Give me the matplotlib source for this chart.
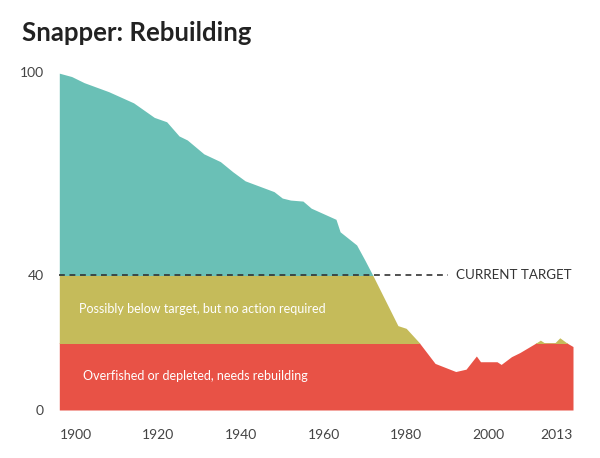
import numpy as np
import matplotlib
matplotlib.use("Agg")
import matplotlib.pyplot as plt
from matplotlib.patches import Rectangle

# ---- data ----
years = [1896, 1899, 1902, 1908, 1914, 1919, 1922, 1925, 1927, 1931, 1935, 1938,
         1941, 1948, 1950, 1952, 1955, 1957, 1963, 1964, 1968, 1970, 1972, 1978,
         1980, 1983, 1987, 1992, 1994.5, 1997, 1998, 2002, 2003, 2005.5, 2007.5,
         2011.5, 2012.5, 2013.5, 2016, 2017.2, 2019, 2020.4]
stock = [99.8, 98.8, 97.0, 94.3, 91.0, 86.7, 85.4, 81.2, 80.0, 75.9, 73.6, 70.6,
         67.9, 64.7, 62.8, 62.2, 61.9, 59.8, 56.5, 52.8, 48.9, 44.4, 39.7, 25.0,
         24.2, 20.2, 13.8, 11.4, 12.1, 16.0, 14.3, 14.3, 13.5, 15.8, 17.0,
         19.9, 20.7, 19.9, 19.9, 21.4, 19.8, 18.8]
target = 40
rebuild_limit = 20
xtick_vals = [1900, 1920, 1940, 1960, 1980, 2000]
xtick_labels = ["1900", "1920", "1940", "1960", "1980", "2000"]
last_label = "2013"
ytick_vals = [0, 40, 100]
ytick_labels = ["0", "40", "100"]
title = "Snapper: Rebuilding"
band_labels = ["Possibly below target, but no action required",
               "Overfished or depleted, needs rebuilding"]
target_label = "CURRENT TARGET"

TEAL = "#6AC0B6"
YELLOW = "#C5BB5A"
RED = "#E85246"

W, H = 600, 458
fig = plt.figure(figsize=(W / 100, H / 100), dpi=100)
fig.patch.set_facecolor("white")

ax_l, ax_r = 59.3, 573.0
ax_b = 410.0
ymax = 105
ppu = 3.375
ax_t = ax_b - ymax * ppu
ax = fig.add_axes([ax_l / W, (H - ax_b) / H, (ax_r - ax_l) / W, (ax_b - ax_t) / H])
ax.set_xlim(years[0], years[-1])
ax.set_ylim(0, ymax)

x = np.array(years)
v = np.array(stock)
bands = [(0, rebuild_limit, RED), (rebuild_limit, target, YELLOW), (target, ymax, TEAL)]
for lo, hi, col in bands:
    poly = ax.fill_between(x, 0, v, color=col, linewidth=0)
    clip = Rectangle((x[0], lo), x[-1] - x[0], hi - lo, transform=ax.transData)
    poly.set_clip_path(clip)

# dashed target line
ax.axhline(target, xmin=0, xmax=(448 - ax_l) / (ax_r - ax_l), color="#333333",
           linewidth=1.2, dashes=(3.5, 2.8))
ax.text((456 - ax_l) / (ax_r - ax_l), target, target_label, transform=ax.get_yaxis_transform(),
        ha="left", va="center", fontsize=9.6, color="#333333", family="Lato")

# band labels
px_per_year = (ax_r - ax_l) / (years[-1] - years[0])
ax.text(years[0] + (79 - ax_l) / px_per_year, 30, band_labels[0], ha="left", va="center",
        color="white", fontsize=9.0, family="Lato")
ax.text(years[0] + (83 - ax_l) / px_per_year, 10, band_labels[1], ha="left", va="center",
        color="white", fontsize=9.0, family="Lato")

for s in ax.spines.values():
    s.set_visible(False)
ax.set_xticks(xtick_vals + [years[-1]])
ax.set_xticklabels(xtick_labels + [last_label], family="Lato", fontsize=10, color="#444444")
ax.get_xticklabels()[-1].set_horizontalalignment("right")
ax.set_yticks(ytick_vals)
ax.set_yticklabels(ytick_labels, family="Lato", fontsize=10, color="#444444")
ax.tick_params(axis="x", length=0, pad=14)
ax.tick_params(axis="y", length=0, pad=11)

fig.text(22 / W, 1 - 41 / H, title, ha="left", va="baseline", fontsize=18.5,
         fontweight="bold", family="Lato", color="#222222")

fig.savefig("out.png", dpi=100, facecolor="white")
